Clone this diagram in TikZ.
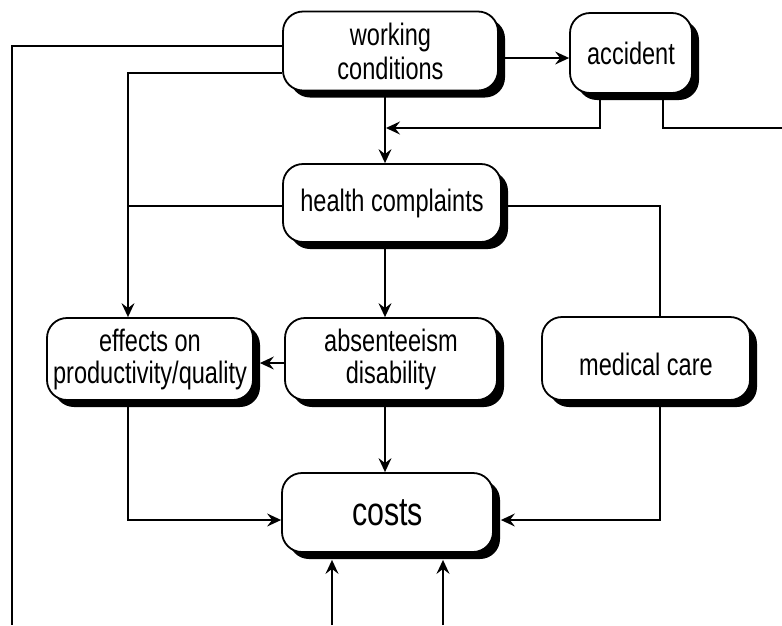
\documentclass[tikz,border=0pt]{standalone}
\usepackage{fontspec}
\setmainfont{Liberation Sans}[FakeStretch=0.76]
\usetikzlibrary{shadows,arrows.meta}
\begin{document}
\begin{tikzpicture}[x=1pt,y=-1pt,
  box/.style={draw, line width=1.8pt, rounded corners=20pt, fill=white, align=center,
    inner sep=0pt, font=\fontsize{31}{32}\selectfont,
    drop shadow={shadow xshift=7pt, shadow yshift=-7pt, fill=black, opacity=1}},
  conn/.style={line width=1.5pt},
  arr/.style={conn, -{Stealth[length=14pt,width=13pt,inset=5pt]}}]
\useasboundingbox (0,0) rectangle (782,625);

\node[box, minimum width=215pt, minimum height=79pt, font=\fontsize{31}{34}\selectfont] (wc) at (390.5,51) {working\\conditions};
\node[box, minimum width=122pt, minimum height=80pt] (acc) at (631,53) {accident};
\node[box, minimum width=218pt, minimum height=78pt] (hc) at (392,203) {health complaints};
\node[box, minimum width=206pt, minimum height=82pt] (eff) at (150,359) {effects on\\productivity/quality};
\node[box, minimum width=212pt, minimum height=82pt] (abs) at (391,359) {absenteeism\\disability};
\node[box, minimum width=208pt, minimum height=83pt, text height=34pt] (med) at (646,358.5) {medical care};
\node[box, minimum width=211pt, minimum height=79pt, font=\fontsize{40}{42}\selectfont] (costs) at (387.5,512.5) {costs};

\coordinate (bl) at (12,625);
\coordinate (br) at (782,128);
\coordinate (b1) at (332,625);
\coordinate (b2) at (443,625);

% left outer line
\draw[conn] (wc.west |- 0,46) -- (12,46) -- (bl);
% working conditions -> effects
\draw[arr] (wc.west |- 0,73) -- (128,73) -- (128,0 |- eff.north);
% health complaints -> left line
\draw[conn] (hc.west |- 0,206) -- (128,206);
% working conditions -> accident
\draw[arr] (wc.east |- 0,58) -- (acc.west |- 0,58);
% working conditions -> health complaints
\draw[arr] (385,0 |- wc.south) -- (385,0 |- hc.north);
% accident -> health complaints line
\draw[arr] (600,0 |- acc.south) -- (600,128) -- (386,128);
\draw[conn] (663,0 |- acc.south) -- (663,128) -- (br);
% health complaints -> medical care
\draw[conn] (hc.east |- 0,206) -- (660,206) -- (660,0 |- med.north);
% health complaints -> absenteeism
\draw[arr] (385,0 |- hc.south) -- (385,0 |- abs.north);
% absenteeism -> effects
\draw[arr] (abs.west |- 0,363) -- ([xshift=6pt]eff.east |- 0,363);
% absenteeism -> costs
\draw[arr] (385,0 |- abs.south) -- (385,0 |- costs.north);
% effects -> costs
\draw[arr] (128,0 |- eff.south) -- (128,520) -- (costs.west |- 0,520);
% medical -> costs
\draw[arr] (660,0 |- med.south) -- (660,520) -- ([xshift=7pt]costs.east |- 0,520);
% bottom arrows
\draw[arr] (b1) -- ([yshift=-7pt]b1 |- costs.south);
\draw[arr] (b2) -- ([yshift=-7pt]b2 |- costs.south);
\end{tikzpicture}
\end{document}
